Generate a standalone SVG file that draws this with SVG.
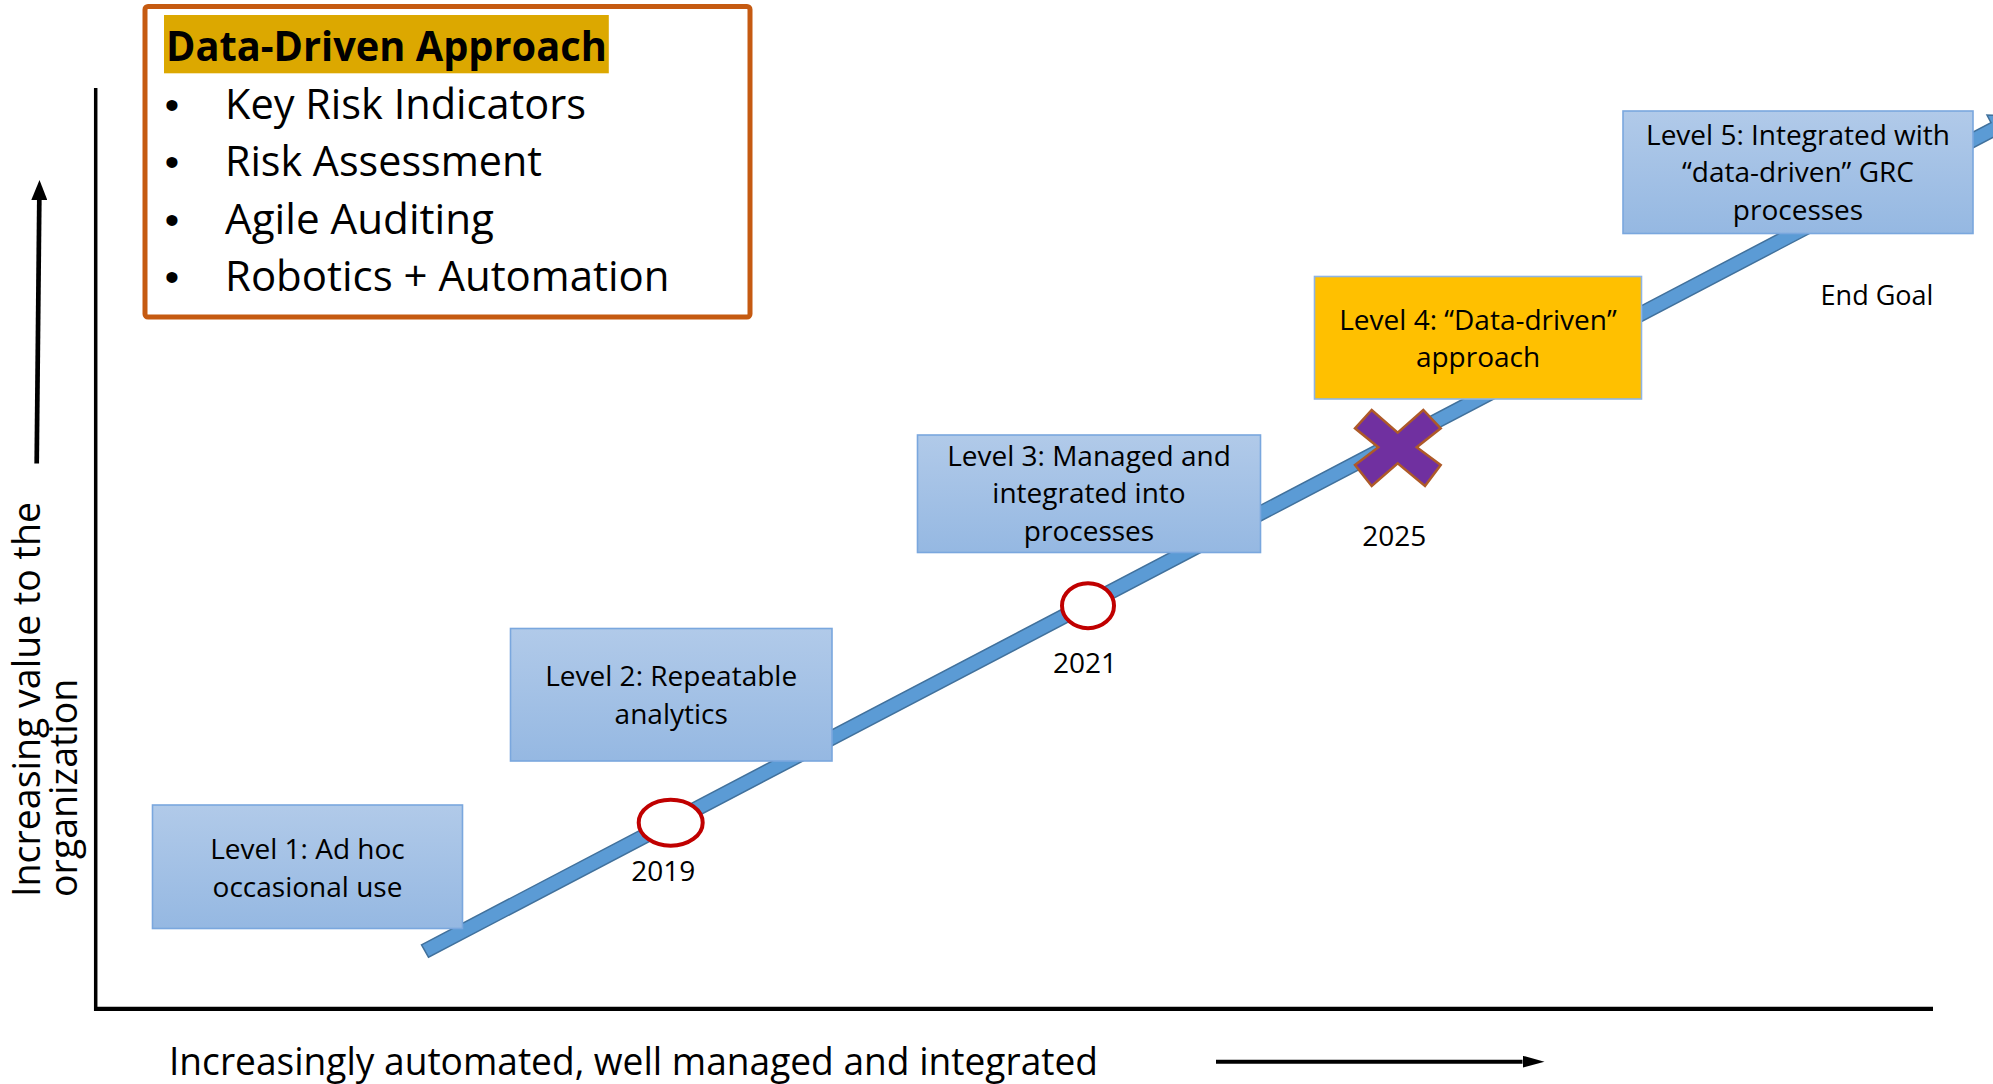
<svg xmlns="http://www.w3.org/2000/svg" width="1993" height="1084" viewBox="0 0 1993 1084">
  <style>
    .t { font-family: "Open Sans", "Liberation Sans", sans-serif; fill: #000; }
    .lbl { font-size: 28px; text-anchor: middle; }
    .yr { font-size: 28px; text-anchor: middle; }
    .axis { font-size: 37.5px; }
    .bul { font-size: 41.5px; }
    .dot { font-family: "Liberation Sans", sans-serif; font-size: 41px; text-anchor: middle; }
    .lvl { fill: url(#lvlFill); stroke: #7AA7DE; stroke-width: 1.6; }
    .ms { fill: #FFFFFF; stroke: #C00000; stroke-width: 4; }
    .ax { stroke: #000; fill: none; }
  </style>
  <defs>
    <linearGradient id="lvlFill" x1="0" y1="0" x2="0" y2="1">
      <stop offset="0" stop-color="#B1CAE9"/>
      <stop offset="1" stop-color="#95B8E2"/>
    </linearGradient>
    <marker id="headUp" markerUnits="userSpaceOnUse" markerWidth="20" markerHeight="16" viewBox="0 0 20 16" refX="0" refY="8" orient="auto">
      <path d="M0,0 L20,8 L0,16 z" fill="#000"/>
    </marker>
    <marker id="headRight" markerUnits="userSpaceOnUse" markerWidth="22" markerHeight="12" viewBox="0 0 22 12" refX="0" refY="6" orient="auto">
      <path d="M0,0 L22,6 L0,12 z" fill="#000"/>
    </marker>
  </defs>

  <rect width="1993" height="1084" fill="#FFFFFF"/>

  <!-- axes, axis arrows and the progression arrow -->
  <g id="connectors">
    <line class="ax" x1="95.7" y1="88" x2="95.7" y2="1011" stroke-width="3.5"/>
    <line class="ax" x1="94" y1="1008.8" x2="1933" y2="1008.8" stroke-width="4.3"/>
    <line class="ax" x1="36.7" y1="463.5" x2="39.3" y2="200" stroke-width="4.7" marker-end="url(#headUp)"/>
    <line class="ax" x1="1216" y1="1061.7" x2="1522.5" y2="1061.7" stroke-width="4" marker-end="url(#headRight)"/>
    <polygon id="trend" points="421.5,944.8 1991,122.6 1987,115 2018.8,115.8 2001.5,142.5 1997.5,135 428.5,957.2" fill="#5B9BD5" stroke="#41719C" stroke-width="1.5" stroke-linejoin="miter"/>
  </g>

  <!-- milestones on the progression arrow -->
  <g id="m2019">
    <ellipse class="ms" cx="670.7" cy="822.7" rx="32" ry="23"/>
    <text class="t yr" x="663.3" y="880.7">2019</text>
  </g>
  <g id="m2021">
    <ellipse class="ms" cx="1088" cy="605.7" rx="26" ry="22.5"/>
    <text class="t yr" x="1085" y="673.3">2021</text>
  </g>
  <g id="m2025">
    <polygon points="1355,428.3 1371.7,410 1397.7,432.7 1423.3,410 1440.7,428.3 1416.7,447.3 1440.7,465 1425,486 1397.7,463.3 1371.7,486 1355,465 1378.3,447.3" fill="#7030A0" stroke="#AE5A28" stroke-width="2.5" stroke-linejoin="miter"/>
    <text class="t yr" x="1394.3" y="546">2025</text>
  </g>

  <!-- maturity levels -->
  <g id="level1">
    <rect class="lvl" x="152.5" y="805" width="310" height="123.5"/>
    <text class="t lbl" x="307.5" y="859.3">Level 1: Ad hoc</text>
    <text class="t lbl" x="307.5" y="896.7">occasional use</text>
  </g>
  <g id="level2">
    <rect class="lvl" x="510.5" y="628.5" width="321.5" height="132.5"/>
    <text class="t lbl" x="671.2" y="686">Level 2: Repeatable</text>
    <text class="t lbl" x="671.2" y="724">analytics</text>
  </g>
  <g id="level3">
    <rect class="lvl" x="917.5" y="435" width="343" height="117.5"/>
    <text class="t lbl" x="1089" y="465.7">Level 3: Managed and</text>
    <text class="t lbl" x="1089" y="503.3">integrated into</text>
    <text class="t lbl" x="1089" y="540.5">processes</text>
  </g>
  <g id="level4">
    <rect x="1314.5" y="276.5" width="327" height="122.5" fill="#FFC000" stroke="#8FB4E3" stroke-width="1.6"/>
    <text class="t lbl" x="1478" y="330">Level 4: “Data-driven”</text>
    <text class="t lbl" x="1478" y="367.3">approach</text>
  </g>
  <g id="level5">
    <rect class="lvl" x="1623" y="111" width="350" height="122.5"/>
    <text class="t lbl" x="1798" y="144.5">Level 5: Integrated with</text>
    <text class="t lbl" x="1798" y="182">“data-driven” GRC</text>
    <text class="t lbl" x="1798" y="219.5">processes</text>
  </g>
  <g id="endGoal">
    <text class="t" x="1877" y="305" font-size="27" text-anchor="middle">End Goal</text>
  </g>

  <!-- axis titles -->
  <g id="yTitle">
    <text class="t axis" transform="translate(40,897) rotate(-90)">Increasing value to the</text>
    <text class="t axis" transform="translate(77,897) rotate(-90)">organization</text>
  </g>
  <g id="xTitle">
    <text class="t axis" x="169" y="1075" textLength="929" lengthAdjust="spacingAndGlyphs">Increasingly automated, well managed and integrated</text>
  </g>

  <!-- approach summary -->
  <g id="approach">
    <rect x="145" y="6.5" width="605" height="310.5" rx="3" fill="#FFFFFF" stroke="#C55A11" stroke-width="5"/>
    <rect x="164" y="15" width="444.8" height="58.3" fill="#DCA800"/>
    <text class="t" x="166" y="61" font-size="40.3" font-weight="bold" textLength="440.8" lengthAdjust="spacingAndGlyphs">Data-Driven Approach</text>
    <text class="dot" x="172" y="118.5">•</text>
    <text class="dot" x="172" y="176">•</text>
    <text class="dot" x="172" y="233.5">•</text>
    <text class="dot" x="172" y="291">•</text>
    <text class="t bul" x="225" y="118.5" textLength="361" lengthAdjust="spacingAndGlyphs">Key Risk Indicators</text>
    <text class="t bul" x="225" y="176" textLength="317" lengthAdjust="spacingAndGlyphs">Risk Assessment</text>
    <text class="t bul" x="225" y="233.5" textLength="269" lengthAdjust="spacingAndGlyphs">Agile Auditing</text>
    <text class="t bul" x="225" y="291" textLength="444.5" lengthAdjust="spacingAndGlyphs">Robotics + Automation</text>
  </g>
</svg>
